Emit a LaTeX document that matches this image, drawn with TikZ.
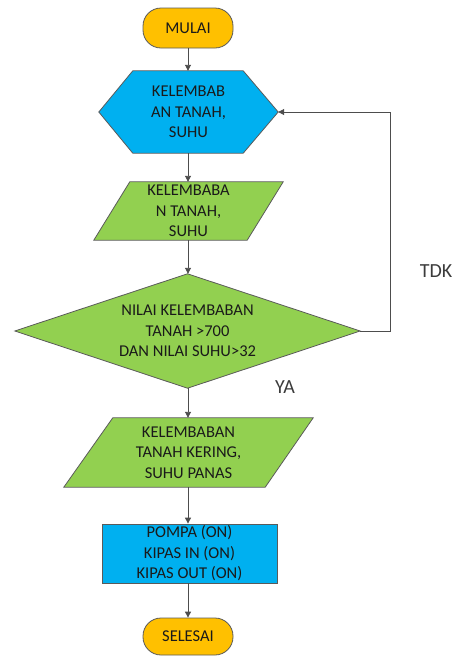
\documentclass[tikz,border=0pt]{standalone}
\usepackage{fontspec}
\setmainfont{Carlito}
\usetikzlibrary{arrows.meta}
\pgfdeclarelayer{bg}
\pgfsetlayers{bg,main}
\definecolor{cOrange}{HTML}{FFC000}
\definecolor{cBlue}{HTML}{00B0F0}
\definecolor{cGreen}{HTML}{92D050}
\definecolor{cText}{HTML}{1A1A1A}
\definecolor{cLine}{HTML}{4D4D4D}
\definecolor{cEdge}{HTML}{5A5A5A}
\begin{document}
\begin{tikzpicture}[x=1pt,y=-1pt,
  txt/.style={inner sep=0pt, align=center, text=cText,
    font=\fontsize{16.5}{20.5}\selectfont},
  shapebox/.style={txt, draw=none},
  term/.style={txt, draw=cEdge, line width=0.8pt, fill=cOrange, rounded corners=18pt},
  outline/.style={draw=cEdge, line width=0.8pt},
  arr/.style={draw=cLine, line width=0.9pt, -{Triangle[length=6pt,width=6pt]}},
  lbl/.style={inner sep=0pt, text=cText!85, font=\fontsize{20}{24}\selectfont}]
\useasboundingbox (0,0) rectangle (457,657);

\node[term, minimum width=90pt, minimum height=40pt] (mulai) at (188,28) {MULAI};
\node[shapebox, minimum width=179pt, minimum height=82pt] (hex) at (188.5,112) {KELEMBAB\\AN TANAH,\\SUHU};
\node[shapebox, minimum width=189pt, minimum height=58pt] (in1) at (188.5,211) {KELEMBABA\\N TANAH,\\SUHU};
\node[shapebox, minimum width=345pt, minimum height=114pt] (dia) at (187.5,331) {NILAI KELEMBABAN\\TANAH >700\\DAN NILAI SUHU>32};
\node[shapebox, minimum width=249pt, minimum height=69pt] (in2) at (188.5,452.5) {KELEMBABAN\\TANAH KERING,\\SUHU PANAS};
\node[txt, draw=cEdge, line width=0.8pt, fill=cBlue, minimum width=175pt, minimum height=59pt] (act) at (189.5,553.5) {POMPA (ON)\\KIPAS IN (ON)\\KIPAS OUT (ON)};
\node[term, minimum width=90pt, minimum height=37pt] (selesai) at (188,636.5) {SELESAI};

\begin{pgfonlayer}{bg}
  \draw[outline, fill=cBlue] (hex.west) -- ([xshift=34pt]hex.north west) -- ([xshift=-35pt]hex.north east)
     -- (hex.east) -- ([xshift=-35pt]hex.south east) -- ([xshift=34pt]hex.south west) -- cycle;
  \draw[outline, fill=cGreen] ([xshift=36pt]in1.north west) -- (in1.north east)
     -- ([xshift=-36pt]in1.south east) -- (in1.south west) -- cycle;
  \draw[outline, fill=cGreen] (dia.west) -- (dia.north) -- (dia.east) -- (dia.south) -- cycle;
  \draw[outline, fill=cGreen] ([xshift=49pt]in2.north west) -- (in2.north east)
     -- ([xshift=-48pt]in2.south east) -- (in2.south west) -- cycle;
\end{pgfonlayer}

\draw[arr] (mulai.south) -- (mulai.south |- hex.north);
\draw[arr] (hex.south -| mulai.south) -- (mulai.south |- in1.north);
\draw[arr] (in1.south -| mulai.south) -- (mulai.south |- dia.north);
\draw[arr] (dia.south -| mulai.south) -- (mulai.south |- in2.north);
\draw[arr] (in2.south -| mulai.south) -- (mulai.south |- act.north);
\draw[arr] (act.south -| mulai.south) -- (selesai.north);
\coordinate (loop) at (390,331);
\draw[arr] (dia.east) -- (loop) |- (hex.east);

\node[lbl] (tdk) at (436,271) {TDK};
\node[lbl] (ya) at (285,387) {YA};
\end{tikzpicture}
\end{document}
